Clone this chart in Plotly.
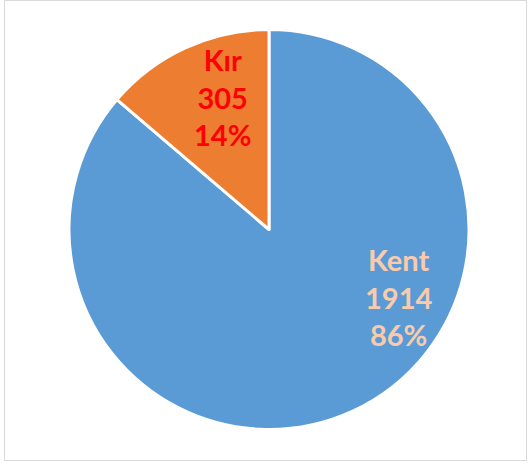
import plotly.graph_objects as go

labels = ["Kent", "Kır"]
values = [1914, 305]
colors = ["#5B9BD5", "#ED7D31"]
text_colors = ["#F8CBAD", "#FF0000"]

W, H = 529, 464
total = sum(values)
fig = go.Figure(go.Pie(
    labels=labels,
    values=values,
    sort=False,
    direction="clockwise",
    rotation=0,
    marker=dict(colors=colors, line=dict(color="white", width=3)),
    textinfo="none",
    hoverinfo="label+value+percent",
    showlegend=False,
    domain=dict(x=[69 / W, 469 / W], y=[1 - 430 / H, 1 - 29 / H]),
))

# label anchor positions (pixels from top-left) for each slice's data label
label_pos = [(398, 297), (222, 97)]
annotations = []
for lab, val, col, (px, py) in zip(labels, values, text_colors, label_pos):
    pct = round(100 * val / total)
    annotations.append(dict(
        x=px / W, y=1 - py / H, xref="paper", yref="paper",
        xanchor="center", yanchor="middle", showarrow=False,
        text=f"<b>{lab}<br>{val}<br>{pct}%</b>",
        font=dict(family="Lato", size=29, color=col),
        align="center",
    ))

fig.update_layout(
    width=W, height=H,
    margin=dict(l=0, r=0, t=0, b=0),
    paper_bgcolor="white",
    annotations=annotations,
    shapes=[dict(type="rect", xref="paper", yref="paper",
                 x0=4.5 / W, x1=526.5 / W, y0=1 - 460.5 / H, y1=1 - 0.5 / H,
                 line=dict(color="#D9D9D9", width=1))],
)
fig.write_html("out.html", config={"displayModeBar": False},
               post_script="document.body.style.margin='0';")
